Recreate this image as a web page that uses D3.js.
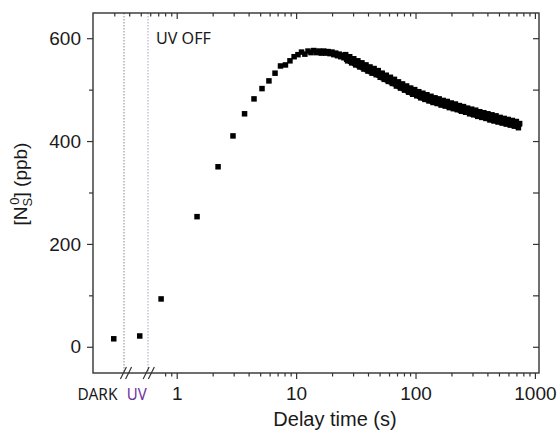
<!DOCTYPE html>
<html><head><meta charset="utf-8">
<script src="https://cdn.jsdelivr.net/npm/d3@7"></script>
<style>body{margin:0;background:#fff}svg{display:block}</style>
</head><body>
<svg id="c" width="557" height="431"></svg>
<script>
// ---- data ----
const specialLabels = ["DARK", "UV"];
const specialX = [0.297, 0.49];        // pseudo positions on the broken axis
const specialValues = [15.5, 21];
const times = [0.74,1.48,2.22,2.96,3.70,4.44,5.18,5.92,6.66,7.40,8.14,8.88,9.62,
  10.36,11.10,11.84,12.58,13.32,14.06,14.80,15.54,16.28,17.02,17.76,18.50,19.24,19.98,20.72,21.46,22.20,22.94,23.68,24.42,25.16,
  26.0,27.0,28.1,29.2,30.4,31.6,32.9,34.2,35.6,37.0,38.5,40.0,41.6,43.3,45.0,46.8,48.7,50.6,52.6,54.7,56.9,59.2,61.6,64.0,66.6,69.2,
  72.0,74.9,77.9,81.0,84.2,87.6,91.1,94.7,98.5,102.4,106.5,110.8,115.2,119.8,124.6,129.6,134.8,140.2,145.8,151.6,157.7,164.0,170.5,177.3,
  184.4,191.8,199.5,207.4,215.7,224.3,233.3,242.6,252.3,262.4,272.9,283.8,295.2,307.0,319.2,332.0,345.3,359.1,373.4,388.4,403.9,420.0,
  436.8,454.3,472.5,491.4,511.0,531.5,552.7,574.8,597.8,621.7,646.6,672.5,699.4,727.3,745.0];
const values = [93,253,350,410,453,482,502,517,532,546,548,556,564,
  568,573,569,575,572,576,572,575,571,575,571,574,570,573,568,571,566,569,564,567,562,
  568,556,564,552,560,548,556,544,552,540,548,536,544,532,541,529,537,524,532,520,528,516,524,512,520,507,
  515,503,511,499,507,495,503,491,500,488,496,484,493,481,490,478,487,475,484,473,482,470,479,468,
  477,465,474,463,472,461,469,458,467,456,464,453,462,451,460,448,457,446,455,444,453,441,
  451,439,449,437,446,435,444,433,442,431,440,429,438,426,434];
// interleaved readings in the dense part of the record
const laterTimes = [26.5,27.5,28.6,29.8,31.0,32.2,33.5,34.9,36.3,37.7,39.2,40.8,42.4,44.1,45.9,47.7,49.6,51.6,53.6,55.8,
  58.0,60.4,62.8,65.3,67.9,70.6,73.4,76.4,79.4,82.6,85.9,89.3,92.9,96.6,100.4,104.4,108.6,113.0,117.5,122.2,
  127.1,132.2,137.5,143.0,148.7,154.6,160.8,167.2,173.9,180.8,188.1,195.6,203.4,211.5,220.0,228.8,237.9,247.4,257.3,267.6,
  278.3,289.4,301.0,313.0,325.5,338.6,352.1,366.2,380.8,396.0,411.9,428.3,445.5,463.3,481.8,501.1,521.1,542.0,563.6,586.2,
  609.6,634.0,659.4,685.8,713.2,736.0];
const laterValues = [559,563,555,559,551,555,547,551,543,547,539,543,535,540,532,536,528,531,523,527,
  519,523,515,519,511,514,506,510,502,506,498,502,494,498,491,495,487,491,484,488,
  481,485,478,483,476,480,473,477,471,475,468,472,466,470,463,468,460,465,458,463,
  456,460,453,458,451,455,449,453,447,451,444,449,442,447,440,445,438,443,436,441,
  434,439,432,437,429,433];
const xMajorTicks = [1, 10, 100, 1000];
const xTickLabels = ["1", "10", "100", "1000"];
const xMinorBottom = [0.8,0.9,2,3,4,5,6,7,8,9,20,30,40,50,60,70,80,90,200,300,400,500,600,700,800,900];
const xMinorTop = [0.3,0.4,0.5,0.6,0.7,0.8,0.9,2,3,4,5,6,7,8,9,20,30,40,50,60,70,80,90,200,300,400,500,600,700,800,900];
const yMajorTicks = [0, 200, 400, 600];
const yMinorTicks = [100, 300, 500];
const dividerX = [0.362, 0.575];
const dividerColors = ["#8a8a8a", "#b39bd0"];
const breakX = [0.376, 0.583];
const annotation = "UV OFF";
const annotationX = 0.67, annotationY = 600;
const xTitle = "Delay time (s)";

// ---- layout ----
const L = 93, R = 539, T = 13, B = 373;
const svg = d3.select("#c");
const x = d3.scaleLog().domain([0.199, 1082]).range([L, R]);
const y = d3.scaleLinear().domain([-51, 649]).range([B, T]);
const axisColor = "#333";
const font = "'Liberation Sans', Arial, sans-serif";

// divider dotted lines
svg.append("g").selectAll("line").data(dividerX).join("line")
  .attr("x1", d => x(d)).attr("x2", d => x(d)).attr("y1", T).attr("y2", B)
  .attr("stroke", (d, i) => dividerColors[i]).attr("stroke-width", 1)
  .attr("stroke-dasharray", "1.5,1.5");

function styleAxis(g) {
  g.select(".domain").remove();
  g.selectAll(".tick line").attr("stroke", axisColor).attr("stroke-width", 1.2);
  g.selectAll(".tick text").attr("fill", "#1a1a1a").style("font-family", font).style("font-size", "19px");
}
// left axis
svg.append("g").attr("transform", `translate(${L},0)`)
  .call(d3.axisLeft(y).tickValues(yMajorTicks).tickSize(6).tickPadding(6).tickFormat(d3.format("d")))
  .call(styleAxis);
svg.append("g").attr("transform", `translate(${L},0)`)
  .call(d3.axisLeft(y).tickValues(yMinorTicks).tickSize(4).tickFormat(""))
  .call(styleAxis);
// right axis (inward)
svg.append("g").attr("transform", `translate(${R},0)`)
  .call(d3.axisRight(y).tickValues(yMajorTicks.concat(yMinorTicks)).tickSize(-6).tickFormat(""))
  .call(styleAxis);
// bottom axis
svg.append("g").attr("transform", `translate(0,${B})`)
  .call(d3.axisBottom(x).tickValues(xMajorTicks).tickSize(6).tickPadding(8).tickFormat((d, i) => xTickLabels[i]))
  .call(styleAxis);
svg.append("g").attr("transform", `translate(0,${B})`)
  .call(d3.axisBottom(x).tickValues(xMinorBottom).tickSize(3.5).tickFormat(""))
  .call(styleAxis);
// top axis (inward)
svg.append("g").attr("transform", `translate(0,${T})`)
  .call(d3.axisTop(x).tickValues(xMajorTicks).tickSize(-6).tickFormat(""))
  .call(styleAxis);
svg.append("g").attr("transform", `translate(0,${T})`)
  .call(d3.axisTop(x).tickValues(xMinorTop).tickSize(-3.5).tickFormat(""))
  .call(styleAxis);

// frame
svg.append("rect").attr("x", L).attr("y", T).attr("width", R - L).attr("height", B - T)
  .attr("fill", "none").attr("stroke", axisColor).attr("stroke-width", 1.4);

// break marks
const br = svg.append("g");
breakX.forEach(b => {
  const cx = x(b);
  [-2.6, 2.6].forEach(o => {
    br.append("line").attr("x1", cx + o - 3).attr("y1", B + 6).attr("x2", cx + o + 3).attr("y2", B - 6)
      .attr("stroke", axisColor).attr("stroke-width", 1.2);
  });
});

// data
const pts = times.map((t, i) => ({t, v: values[i]}))
  .concat(laterTimes.map((t, i) => ({t, v: laterValues[i]})))
  .filter(d => d.v != null);
const s = 5.5;
svg.append("g").selectAll("rect").data(pts).join("rect")
  .attr("x", d => x(d.t) - s / 2).attr("y", d => y(d.v) - s / 2)
  .attr("width", s).attr("height", s).attr("fill", "#000");
svg.append("g").selectAll("rect").data(specialX).join("rect")
  .attr("x", d => x(d) - s / 2).attr("y", (d, i) => y(specialValues[i]) - s / 2)
  .attr("width", s).attr("height", s).attr("fill", "#000");

// special labels under the axis
const labelColors = ["#1a1a1a", "#7030a0"];
const labelLens = [40, 20];
const labelCenters = [0.217, 0.462];
svg.append("g").selectAll("text").data(specialLabels).join("text")
  .attr("x", (d, i) => x(labelCenters[i])).attr("y", 400)
  .attr("text-anchor", "middle").attr("fill", (d, i) => labelColors[i])
  .attr("textLength", (d, i) => labelLens[i]).attr("lengthAdjust", "spacingAndGlyphs")
  .style("font-family", "'Noto Sans', sans-serif").style("font-size", "16px")
  .text(d => d);

// annotation
svg.append("text").attr("x", x(annotationX)).attr("y", y(annotationY) + 5.5)
  .attr("fill", "#1a1a1a").attr("textLength", 55).attr("lengthAdjust", "spacingAndGlyphs")
  .style("font-family", "'Noto Sans', sans-serif").style("font-size", "16px").text(annotation);

// axis titles
svg.append("text").attr("x", (L + R) / 2 + 19).attr("y", 426).attr("text-anchor", "middle")
  .attr("fill", "#1a1a1a").style("font-family", font).style("font-size", "20px").text(xTitle);
const yt = svg.append("text").attr("transform", "translate(27,184) rotate(-90)")
  .attr("text-anchor", "middle").attr("fill", "#1a1a1a")
  .style("font-family", font).style("font-size", "19px");
yt.append("tspan").text("[N");
yt.append("tspan").attr("dy", 5).style("font-size", "13px").text("S");
yt.append("tspan").attr("dy", -13).attr("dx", -7).style("font-size", "13px").text("0");
yt.append("tspan").attr("dy", 8).text("] (ppb)");
</script>
</body></html>
